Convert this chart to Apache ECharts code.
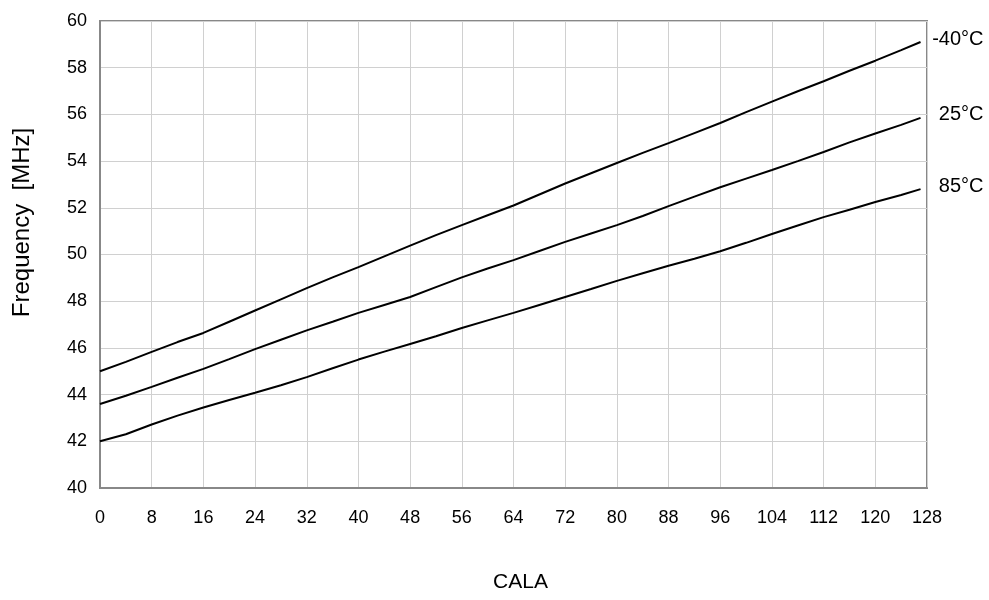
<!DOCTYPE html>
<html>
<head>
<meta charset="utf-8">
<script src="https://cdn.jsdelivr.net/npm/echarts@6/dist/echarts.min.js"></script>
<style>
  html, body { margin: 0; padding: 0; background: #fff; }
  #chart { width: 989px; height: 600px; }
</style>
</head>
<body>
<div id="chart"></div>
<script>
// CALA code vs output frequency at three temperatures
var cala = [0, 4, 8, 12, 16, 20, 24, 28, 32, 36, 40, 44, 48, 52, 56, 60,
            64, 68, 72, 76, 80, 84, 88, 92, 96, 100, 104, 108, 112, 116, 120, 124, 127];

// values (MHz)
var freqM40 = [45.0, 45.4, 45.83, 46.25, 46.64, 47.12, 47.6, 48.08, 48.56, 49.02, 49.46, 49.92, 50.38, 50.83, 51.26, 51.68,
               52.1, 52.57, 53.04, 53.48, 53.92, 54.35, 54.77, 55.2, 55.63, 56.1, 56.55, 56.99, 57.42, 57.87, 58.3, 58.75, 59.1];
var freq25 = [43.6, 43.95, 44.33, 44.72, 45.1, 45.52, 45.95, 46.35, 46.75, 47.12, 47.5, 47.84, 48.18, 48.6, 49.02, 49.4,
              49.76, 50.15, 50.54, 50.9, 51.26, 51.65, 52.07, 52.48, 52.88, 53.25, 53.62, 54.0, 54.39, 54.8, 55.18, 55.55, 55.85];
var freq85 = [42.0, 42.3, 42.72, 43.1, 43.45, 43.77, 44.08, 44.4, 44.75, 45.13, 45.5, 45.84, 46.17, 46.5, 46.85, 47.18,
              47.5, 47.84, 48.18, 48.52, 48.87, 49.2, 49.52, 49.82, 50.14, 50.5, 50.88, 51.24, 51.6, 51.92, 52.25, 52.55, 52.8];

var seriesNames = ['-40°C', '25°C', '85°C'];
var seriesValues = [freqM40, freq25, freq85];

var fontName = 'Liberation Sans';

function pairs(xs, ys) {
  var out = [];
  for (var i = 0; i < xs.length; i++) {
    out.push([xs[i], ys[i]]);
  }
  return out;
}

var chart = echarts.init(document.getElementById('chart'));

var series = [];
for (var k = 0; k < seriesNames.length; k++) {
  series.push({
    name: seriesNames[k],
    type: 'line',
    data: pairs(cala, seriesValues[k]),
    showSymbol: false,
    smooth: false,
    lineStyle: { color: '#000', width: 2 },
    endLabel: {
      show: true,
      formatter: '{a}',
      color: '#000',
      fontFamily: fontName,
      fontSize: 20,
      align: 'right',
      distance: 5,
      offset: [58, -3]
    },
    animation: false
  });
}

var option = {
  animation: false,
  textStyle: { fontFamily: fontName },
  grid: {
    left: 100,
    right: 62,
    top: 21,
    bottom: 112,
    show: true,
    borderColor: '#888',
    borderWidth: 2,
    containLabel: false
  },
  xAxis: {
    type: 'value',
    min: 0,
    max: 128,
    interval: 8,
    name: 'CALA',
    nameLocation: 'middle',
    nameGap: 84,
    nameTextStyle: { color: '#000', fontSize: 21, fontFamily: fontName, padding: [0, 0, 0, 14] },
    axisLine: { show: true, lineStyle: { color: '#888', width: 2 } },
    axisTick: { show: false },
    axisLabel: { color: '#000', fontSize: 18, fontFamily: fontName, margin: 21 },
    splitLine: { show: true, lineStyle: { color: '#d0d0d0', width: 1 } }
  },
  yAxis: {
    type: 'value',
    min: 40,
    max: 60,
    interval: 2,
    name: 'Frequency  [MHz]',
    nameLocation: 'middle',
    nameGap: 66,
    nameTextStyle: { color: '#000', fontSize: 24, fontFamily: fontName, padding: [0, 0, 0, 64] },
    axisLine: { show: true, lineStyle: { color: '#888', width: 2 } },
    axisTick: { show: false },
    axisLabel: { color: '#000', fontSize: 18, fontFamily: fontName, margin: 13 },
    splitLine: { show: true, lineStyle: { color: '#d0d0d0', width: 1 } }
  },
  series: series
};

chart.setOption(option);
</script>
</body>
</html>
